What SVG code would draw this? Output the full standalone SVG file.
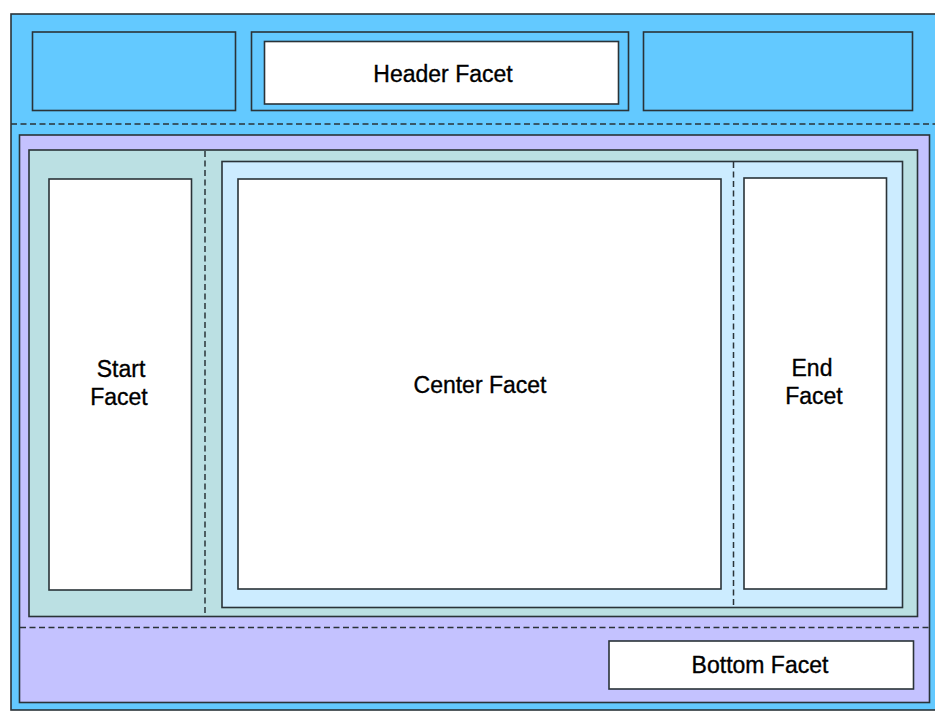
<svg xmlns="http://www.w3.org/2000/svg" width="935" height="711" viewBox="0 0 935 711">
<style>
rect{stroke:#2a3338;stroke-width:1.6}
.blue{fill:#63C9FF}
.purple{fill:#C4C2FF}
.teal{fill:#BBE0E3}
.lblue{fill:#CCECFF}
.white{fill:#FFFFFF}
.dash{stroke:#2a3338;stroke-width:1.5;stroke-dasharray:6 3.5;fill:none}
text{font-family:"Liberation Sans",Arial,sans-serif;font-size:23px;fill:#000;stroke:#000;stroke-width:0.35;text-anchor:middle}
</style>
<rect id="page" class="blue" x="11" y="14" width="930" height="696"/>
<g id="header-start"><rect class="blue" x="32.5" y="32" width="203" height="78.5"/></g>
<g id="header-center"><rect class="blue" x="251.5" y="32" width="377" height="78.5"/></g>
<g id="header-facet"><rect class="white" x="264.5" y="41.5" width="354" height="62.5"/><text x="443" y="81.5">Header Facet</text></g>
<g id="header-end"><rect class="blue" x="643.5" y="32" width="269" height="78.5"/></g>
<g id="body"><rect class="purple" x="19.5" y="135" width="910" height="567.5"/></g>
<g id="middle"><rect class="teal" x="29" y="150" width="888.5" height="466.5"/></g>
<g id="inner"><rect class="lblue" x="222" y="161.5" width="680.5" height="446"/></g>
<g id="start-facet"><rect class="white" x="49" y="179" width="142.5" height="411"/><text x="121" y="377">Start</text><text x="119" y="405">Facet</text></g>
<g id="center-facet"><rect class="white" x="238" y="179" width="483" height="410"/><text x="480" y="393">Center Facet</text></g>
<g id="end-facet"><rect class="white" x="744" y="178" width="142.5" height="411"/><text x="812" y="376">End</text><text x="814" y="404">Facet</text></g>
<g id="bottom-facet"><rect class="white" x="609" y="641" width="304.5" height="48"/><text x="760" y="673">Bottom Facet</text></g>
<g id="connectors">
<line class="dash" x1="11" y1="124" x2="935" y2="124"/>
<line class="dash" x1="205" y1="151" x2="205" y2="616"/>
<line class="dash" x1="733.5" y1="162" x2="733.5" y2="607"/>
<line class="dash" x1="20" y1="627.5" x2="929" y2="627.5"/>
</g>
</svg>
